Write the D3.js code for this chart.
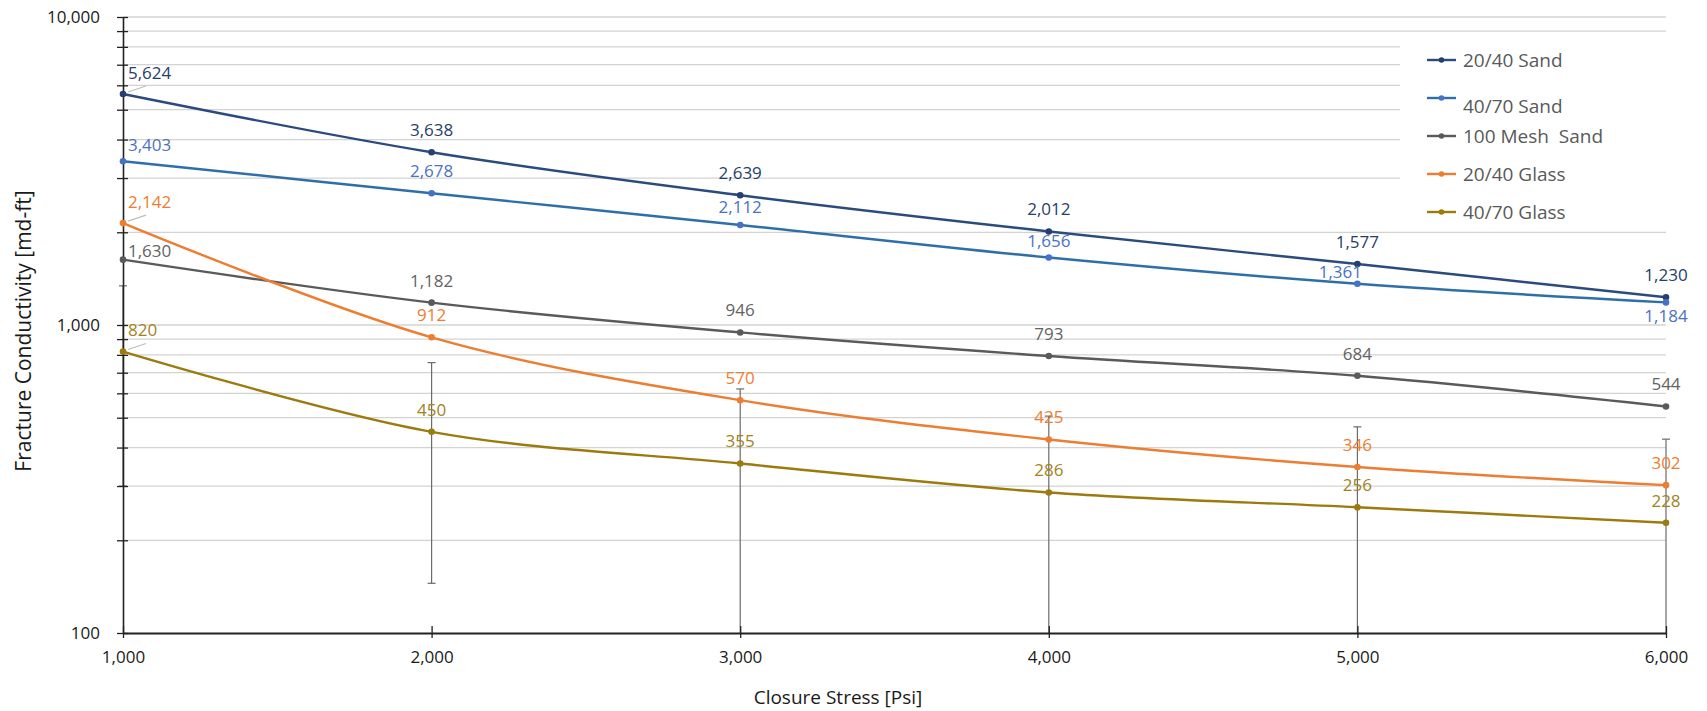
<!DOCTYPE html>
<html>
<head>
<meta charset="utf-8">
<script src="https://cdn.jsdelivr.net/npm/d3@7"></script>
<style>
  body { margin: 0; background: #fff; }
  text { font-family: "Open Sans", sans-serif; white-space: pre; }
</style>
</head>
<body>
<div id="chart"></div>
<script>
// data
var stress = [1000, 2000, 3000, 4000, 5000, 6000];
var seriesNames = ["20/40 Sand", "40/70 Sand", "100 Mesh  Sand", "20/40 Glass", "40/70 Glass"];
var sand2040 = [5624, 3638, 2639, 2012, 1577, 1230];
var sand4070 = [3403, 2678, 2112, 1656, 1361, 1184];
var mesh100 = [1630, 1182, 946, 793, 684, 544];
var glass2040 = [2142, 912, 570, 425, 346, 302];
var glass4070 = [820, 450, 355, 286, 256, 228];
var glass4070Err = [520, 305, 265, 220, 211, 198];
var yMajorTicks = [100, 1000, 10000];
var yMinorTicks = [200, 300, 400, 500, 600, 700, 800, 900,
                   2000, 3000, 4000, 5000, 6000, 7000, 8000, 9000];

var allValues = [sand2040, sand4070, mesh100, glass2040, glass4070];
var lineColors  = ["#2b4a7e", "#2f6fa9", "#5a5a5a", "#ed7d31", "#9c7a0e"];
var dotColors   = ["#253f6e", "#4472c4", "#5a5a5a", "#ed7d31", "#9c7a0e"];
var labelColors = ["#263e6a", "#4a72c4", "#636363", "#ed7d31", "#a3831a"];

// label tweaks (series index -> point index -> [dx, dy]); default is centred 22px above
var labelNudge = {
  0: {0: [5, -21]},
  1: {0: [5, -16], 2: [0, -18], 3: [0, -16], 4: [-17, -12], 5: [0, 14]},
  2: {0: [5, -9]},
  3: {0: [5, -21]},
  4: {0: [5, -21]}
};
var leaders = {0: true, 3: true, 4: true}; // series with a leader line on the first point

var W = 1707, H = 711;
var margin = {top: 17, right: 41, bottom: 78, left: 123};
var width = W - margin.left - margin.right,
    height = H - margin.top - margin.bottom;

var x = d3.scaleLinear().domain([1000, 6000]).range([0, width]);
var y = d3.scaleLog().domain([100, 10000]).range([height, 0]);

var svg = d3.select("#chart").append("svg")
    .attr("width", W)
    .attr("height", H)
  .append("g")
    .attr("transform", "translate(" + margin.left + "," + margin.top + ")");

// gridlines
svg.append("g")
  .selectAll("line")
  .data(yMinorTicks.concat([1000, 10000]))
  .enter().append("line")
    .attr("x1", 0).attr("x2", width)
    .attr("y1", function(d) { return y(d); })
    .attr("y2", function(d) { return y(d); })
    .attr("stroke", "#d3d3d3")
    .attr("stroke-width", 1.3);

// legend background hides the gridlines behind it
svg.append("rect")
  .attr("x", 1400 - margin.left).attr("y", 34 - margin.top)
  .attr("width", width - (1400 - margin.left) + 2).attr("height", 195)
  .attr("fill", "#fff");

// error bars on 40/70 Glass
var errG = svg.append("g");
stress.forEach(function(s, i) {
  var hi = glass4070[i] + glass4070Err[i];
  var lo = Math.max(100, glass4070[i] - glass4070Err[i]);
  var cx = x(s);
  errG.append("line")
    .attr("x1", cx).attr("x2", cx)
    .attr("y1", y(hi)).attr("y2", y(lo))
    .attr("stroke", "#6b6b6b").attr("stroke-width", 1.2);
  errG.append("line")
    .attr("x1", cx - 4).attr("x2", cx + 4)
    .attr("y1", y(hi)).attr("y2", y(hi))
    .attr("stroke", "#6b6b6b").attr("stroke-width", 1.2);
  if (glass4070[i] - glass4070Err[i] > 100) {
    errG.append("line")
      .attr("x1", cx - 4).attr("x2", cx + 4)
      .attr("y1", y(lo)).attr("y2", y(lo))
      .attr("stroke", "#6b6b6b").attr("stroke-width", 1.2);
  }
});

// axes
var fmt = d3.format(",");
var yAxis = svg.append("g")
    .call(d3.axisLeft(y)
      .tickValues(yMajorTicks.concat(yMinorTicks))
      .tickSize(6)
      .tickSizeOuter(0)
      .tickFormat(function(d) { return yMajorTicks.indexOf(d) >= 0 ? fmt(d) : ""; }));
yAxis.select(".domain").attr("stroke", "#222").attr("stroke-width", 1.6);
yAxis.selectAll(".tick line").attr("x1", 5).attr("x2", -6).attr("stroke", "#222").attr("stroke-width", 1.3);
yAxis.selectAll(".tick text")
  .attr("x", -23)
  .style("font-size", "17px")
  .style("font-family", "Open Sans")
  .attr("fill", "#1a1a1a");

var xAxis = svg.append("g")
    .attr("transform", "translate(0," + height + ")")
    .call(d3.axisBottom(x).tickValues(stress).tickSizeOuter(0).tickFormat(fmt));
xAxis.select(".domain").attr("stroke", "#222").attr("stroke-width", 1.8);
xAxis.selectAll(".tick line").attr("y1", -7).attr("y2", 5).attr("stroke", "#222").attr("stroke-width", 1.3);
xAxis.selectAll(".tick text")
  .attr("y", 24).attr("dy", "0.35em")
  .style("font-size", "17px")
  .style("font-family", "Open Sans")
  .attr("fill", "#1a1a1a");

// axis titles
svg.append("text")
  .attr("x", 838 - margin.left).attr("y", 697 - margin.top)
  .attr("dy", "0.35em")
  .attr("text-anchor", "middle")
  .style("font-size", "19px")
  .attr("fill", "#1a1a1a")
  .text("Closure Stress [Psi]");

svg.append("text")
  .attr("transform", "translate(" + (24 - margin.left) + "," + (331 - margin.top) + ") rotate(-90)")
  .attr("dy", "0.35em")
  .attr("text-anchor", "middle")
  .style("font-size", "21px")
  .attr("fill", "#1a1a1a")
  .text("Fracture Conductivity [md-ft]");

// series lines
var line = d3.line()
  .x(function(d, i) { return x(stress[i]); })
  .y(function(d) { return y(d); })
  .curve(d3.curveCatmullRom.alpha(0.5));

allValues.forEach(function(vals, s) {
  svg.append("path")
    .datum(vals)
    .attr("d", line)
    .attr("fill", "none")
    .attr("stroke", lineColors[s])
    .attr("stroke-width", 2.4);

  svg.append("g").selectAll("circle")
    .data(vals)
    .enter().append("circle")
      .attr("cx", function(d, i) { return x(stress[i]); })
      .attr("cy", function(d) { return y(d); })
      .attr("r", 3.3)
      .attr("fill", dotColors[s]);
});

// data labels
allValues.forEach(function(vals, s) {
  vals.forEach(function(v, i) {
    var nudge = (labelNudge[s] && labelNudge[s][i]) || [0, -22];
    var px = x(stress[i]), py = y(v);
    if (i === 0 && leaders[s]) {
      svg.append("line")
        .attr("x1", px + 5).attr("y1", py - 2)
        .attr("x2", px + 23).attr("y2", py - 8)
        .attr("stroke", "#bdbdbd").attr("stroke-width", 1.2);
    }
    svg.append("text")
      .attr("x", px + nudge[0])
      .attr("y", py + nudge[1])
      .attr("dy", "0.35em")
      .attr("text-anchor", i === 0 ? "start" : "middle")
      .style("font-size", "17px")
      .attr("fill", labelColors[s])
      .text(fmt(v));
  });
});

// legend
var legend = svg.append("g")
  .attr("transform", "translate(" + (1427 - margin.left) + "," + (60 - margin.top) + ")");
seriesNames.forEach(function(name, s) {
  var ly = s * 38;
  legend.append("line")
    .attr("x1", 0).attr("x2", 29)
    .attr("y1", ly).attr("y2", ly)
    .attr("stroke", lineColors[s]).attr("stroke-width", 2.4);
  legend.append("circle")
    .attr("cx", 14.5).attr("cy", ly).attr("r", 2.8)
    .attr("fill", dotColors[s]);
  legend.append("text")
    .attr("x", 36)
    .attr("y", ly + (s === 1 ? 8 : 0))
    .attr("dy", "0.35em")
    .style("font-size", "19px")
    .attr("fill", "#595959")
    .text(name);
});
</script>
</body>
</html>
